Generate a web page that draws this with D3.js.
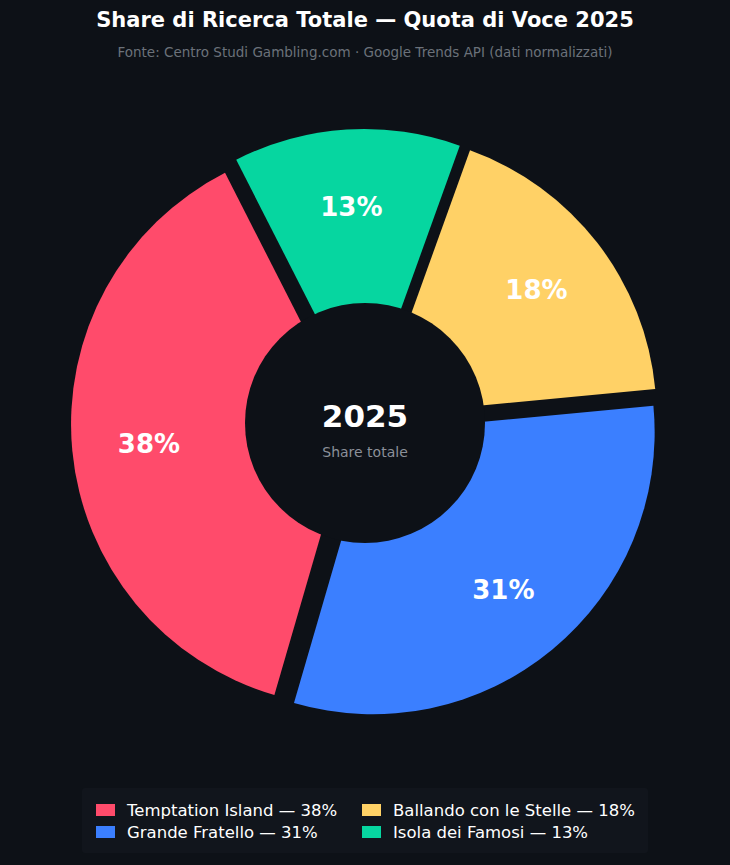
<!DOCTYPE html>
<html><head><meta charset="utf-8">
<script src="https://cdn.jsdelivr.net/npm/d3@7"></script>
<style>body{margin:0;background:#0d1117;font-family:"DejaVu Sans",sans-serif}</style>
</head><body><div id="chart"></div>
<script>
const categories = ["Temptation Island", "Grande Fratello", "Ballando con le Stelle", "Isola dei Famosi"]
const shares = [38, 31, 18, 13]
const colors = ["#ff4b6b", "#3b7fff", "#ffd166", "#06d6a0"]

const width = 730, height = 865
const cx = 365, cy = 423, R = 282, explode = 12, hole = 120

const svg = d3.select("#chart").append("svg")
  .attr("width", width).attr("height", height)
svg.append("rect").attr("width", width).attr("height", height).attr("fill", "#0d1117")

svg.append("text").attr("x", width/2).attr("y", 27).attr("text-anchor", "middle")
  .attr("fill", "#fff").style("font-size", "21px").style("font-weight", "bold")
  .text("Share di Ricerca Totale — Quota di Voce 2025")
svg.append("text").attr("x", width/2).attr("y", 57).attr("text-anchor", "middle")
  .attr("fill", "#6b717a").style("font-size", "13.5px")
  .text("Fonte: Centro Studi Gambling.com · Google Trends API (dati normalizzati)")

// counterclockwise from -27deg
const start = 333 * Math.PI / 180
const pie = d3.pie().sort(null).value(d => d).startAngle(start).endAngle(start - 2 * Math.PI)
const arcs = pie(shares)
const arc = d3.arc().innerRadius(0).outerRadius(R)

const g = svg.append("g").attr("transform", `translate(${cx},${cy})`)
arcs.forEach((a, i) => {
  const mid = (a.startAngle + a.endAngle) / 2
  const dx = Math.sin(mid) * explode, dy = -Math.cos(mid) * explode
  g.append("path").attr("d", arc(a)).attr("fill", colors[i])
    .attr("transform", `translate(${dx},${dy})`)
  const lr = 205 + explode
  g.append("text").attr("x", Math.sin(mid) * lr).attr("y", -Math.cos(mid) * lr)
    .attr("text-anchor", "middle").attr("dy", "0.35em")
    .attr("fill", "#fff").style("font-size", "26px").style("font-weight", "bold")
    .text(a.data + "%")
})
g.append("circle").attr("r", hole).attr("fill", "#0d1117")
g.append("text").attr("y", -7).attr("text-anchor", "middle").attr("dy", "0.35em")
  .attr("fill", "#fff").style("font-size", "31px").style("font-weight", "bold").text("2025")
g.append("text").attr("y", 34).attr("text-anchor", "middle")
  .attr("fill", "#8b9099").style("font-size", "14px").text("Share totale")

// legend
const lg = svg.append("g")
lg.append("rect").attr("x", 82).attr("y", 788).attr("width", 566).attr("height", 65)
  .attr("fill", "#11151c").attr("rx", 3)
categories.forEach((c, i) => {
  const col = i < 2 ? 0 : 1, row = i % 2
  const x = 96 + col * 266, y = 810 + row * 22
  lg.append("rect").attr("x", x).attr("y", y - 6).attr("width", 19).attr("height", 12).attr("fill", colors[i])
  lg.append("text").attr("x", x + 31).attr("y", y).attr("dy", "0.35em")
    .attr("fill", "#fff").style("font-size", "16.5px")
    .text(`${c}  —  ${shares[i]}%`)
})
</script></body></html>
